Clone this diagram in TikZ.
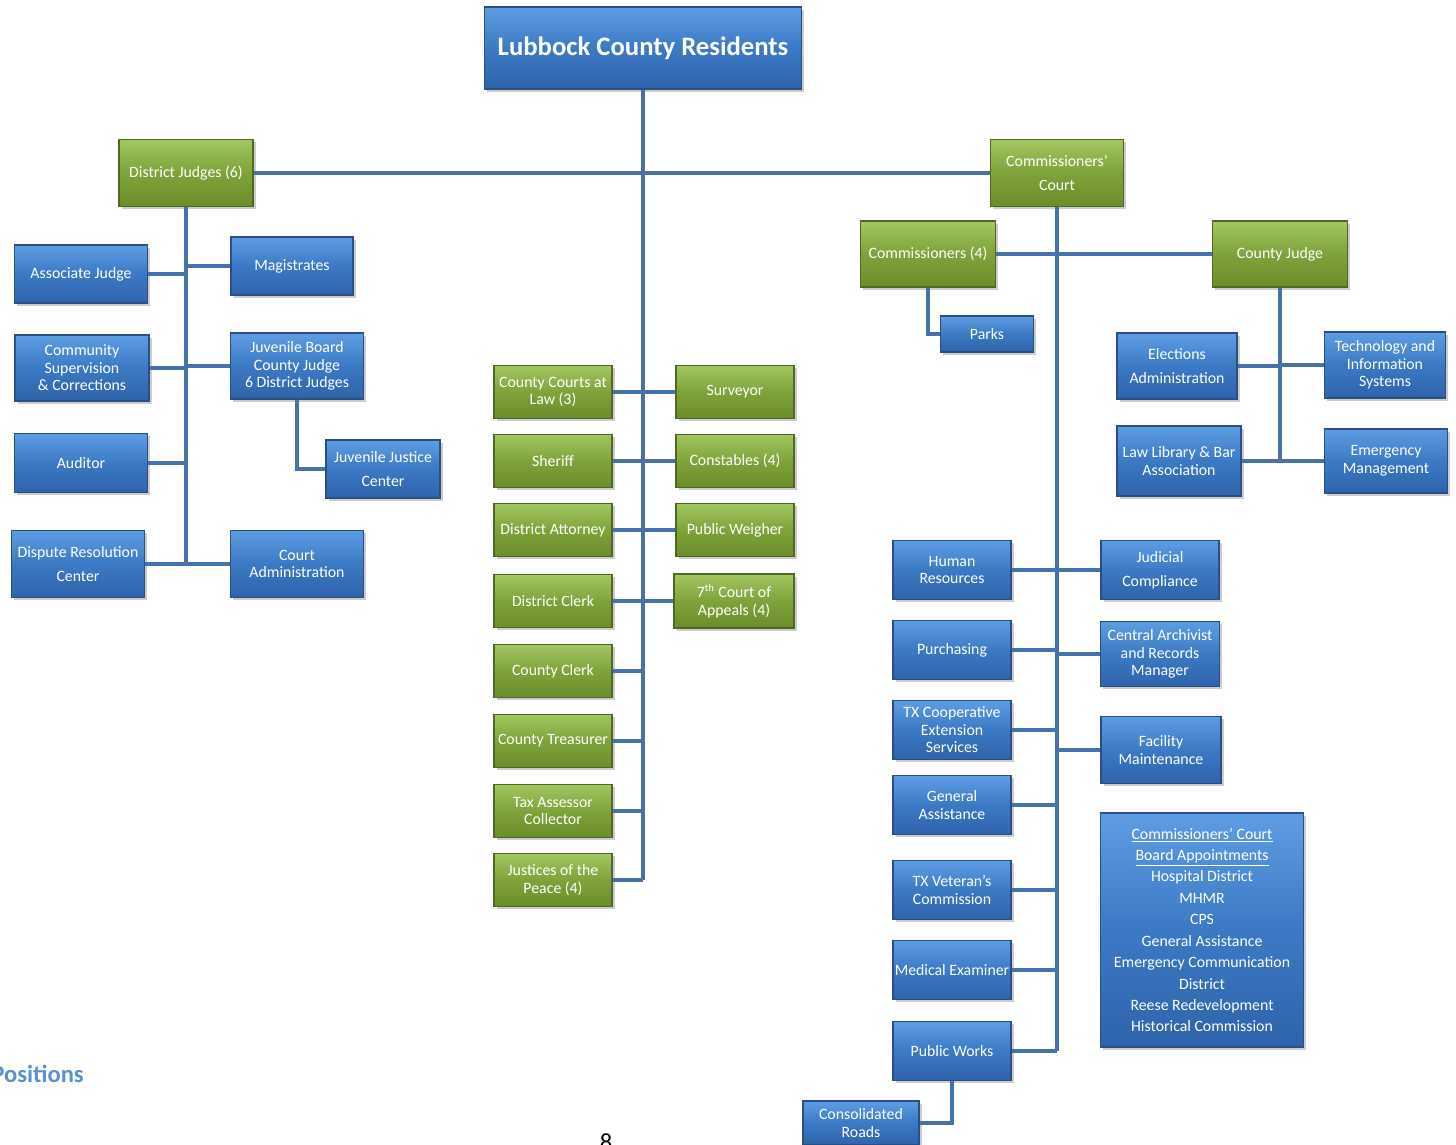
\documentclass[tikz,border=0pt]{standalone}
\usepackage{fontspec}
\setmainfont{Carlito}
\usetikzlibrary{shadows}

\definecolor{linkblue}{HTML}{4672A9}
\definecolor{boxtop}{HTML}{5E9DE2}
\definecolor{boxmid}{HTML}{3C79C5}
\definecolor{boxbot}{HTML}{2E63AA}
\definecolor{boxedge}{HTML}{2A4F80}
\definecolor{grtop}{HTML}{A2C660}
\definecolor{grmid}{HTML}{7FA33B}
\definecolor{grbot}{HTML}{6A8C2B}
\definecolor{gredge}{HTML}{4F6823}
\definecolor{postext}{HTML}{5A8FD8}

\tikzset{
  box/.style = {draw=boxedge, line width=0.8pt, top color=boxtop, bottom color=boxbot, middle color=boxmid,
    text=white, align=center, inner sep=1pt, font=\fontsize{9}{10}\selectfont,
    drop shadow={shadow xshift=1.5pt, shadow yshift=-1.5pt, opacity=0.4}},
  greenbox/.style = {box, draw=gredge, top color=grtop, bottom color=grbot, middle color=grmid},
  sz/.style 2 args = {minimum width=#1*0.02cm, minimum height=#2*0.02cm},
  link/.style = {draw=linkblue, line width=2.8pt}
}

\begin{document}
\begin{tikzpicture}[x=0.02cm, y=-0.02cm]

    \useasboundingbox (0,0) rectangle (1456,1145);

    % Top
    \node [box, sz={317}{82}, font=\fontsize{15.2}{18}\selectfont\bfseries] (res) at (643,48) {Lubbock County Residents};
    \node [greenbox, sz={134}{67}] (dj) at (186,173) {District Judges (6)};
    \node [greenbox, sz={133}{67}] (ccourt) at (1057,173) {Commissioners’\\[3.5pt] Court};

    % District Judges branch
    \node [box, sz={133}{58}] (asj) at (81,274) {Associate Judge};
    \node [box, sz={122}{58}] (mag) at (292,266) {Magistrates};
    \node [box, sz={134}{66}] (csc) at (82,368) {Community\\ Supervision\\ \& Corrections};
    \node [box, sz={133}{66}] (jb) at (297,366) {Juvenile Board\\ County Judge\\ 6 District Judges};
    \node [box, sz={133}{59}] (aud) at (81,463) {Auditor};
    \node [box, sz={114}{58}] (jjc) at (383,469) {Juvenile Justice\\[3.5pt] Center};
    \node [box, sz={133}{67}] (drc) at (78,564) {Dispute Resolution\\[3.5pt] Center};
    \node [box, sz={133}{67}] (cadm) at (297,564) {Court\\ Administration};

    % Elected offices
    \node [greenbox, sz={118}{53}] (ccl) at (553,392) {County Courts at\\ Law (3)};
    \node [greenbox, sz={118}{53}] (sher) at (553,461) {Sheriff};
    \node [greenbox, sz={118}{53}] (da) at (553,530) {District Attorney};
    \node [greenbox, sz={118}{53}] (dclk) at (553,601) {District Clerk};
    \node [greenbox, sz={118}{53}] (cclk) at (553,671) {County Clerk};
    \node [greenbox, sz={118}{53}] (ctre) at (553,741) {County Treasurer};
    \node [greenbox, sz={118}{53}] (tax) at (553,811) {Tax Assessor\\ Collector};
    \node [greenbox, sz={118}{53}] (jp) at (553,880) {Justices of the\\ Peace (4)};
    \node [greenbox, sz={118}{53}] (surv) at (735,392) {Surveyor};
    \node [greenbox, sz={118}{53}] (const) at (735,461) {Constables (4)};
    \node [greenbox, sz={118}{53}] (pweigh) at (735,530) {Public Weigher};
    \node [greenbox, sz={120}{54}] (coa) at (734,601) {7\textsuperscript{th} Court of\\ Appeals (4)};

    % Commissioners' Court branch
    \node [greenbox, sz={135}{66}] (comm) at (928,254) {Commissioners (4)};
    \node [greenbox, sz={135}{66}] (cj) at (1280,254) {County Judge};
    \node [box, sz={93}{36}] (parks) at (987,334) {Parks};
    \node [box, sz={120}{66}] (elec) at (1177,366) {Elections\\[3.5pt] Administration};
    \node [box, sz={121}{66}] (tech) at (1385,365) {Technology and\\ Information\\ Systems};
    \node [box, sz={124}{70}] (law) at (1179,461) {Law Library \& Bar\\ Association};
    \node [box, sz={123}{64}] (emer) at (1386,461) {Emergency\\ Management};

    \node [box, sz={118}{59}] (hr) at (952,570) {Human\\ Resources};
    \node [box, sz={118}{59}] (purch) at (952,650) {Purchasing};
    \node [box, sz={118}{59}] (txc) at (952,730) {TX Cooperative\\ Extension\\ Services};
    \node [box, sz={118}{59}] (gen) at (952,805) {General\\ Assistance};
    \node [box, sz={118}{59}] (vet) at (952,890) {TX Veteran’s\\ Commission};
    \node [box, sz={118}{59}] (med) at (952,970) {Medical Examiner};
    \node [box, sz={118}{59}] (pw) at (952,1051) {Public Works};
    \node [box, sz={116}{44}] (roads) at (861,1123) {Consolidated\\ Roads};
    \node [box, sz={118}{59}] (judc) at (1160,570) {Judicial\\[3.5pt] Compliance};
    \node [box, sz={119}{65}] (arch) at (1160,654) {Central Archivist\\ and Records\\ Manager};
    \node [box, sz={120}{67}] (fac) at (1161,750) {Facility\\ Maintenance};
    \node [box, sz={203}{234}, font=\fontsize{9}{12.2}\selectfont] (board) at (1202,930)
        {\underline{Commissioners’ Court}\\ \underline{Board Appointments}\\ Hospital District\\ MHMR\\ CPS\\
         General Assistance\\ Emergency Communication\\ District\\ Reese Redevelopment\\ Historical Commission};

    % Connectors
    \draw [link] (res.south) -- (res.south |- jp.east);
    \draw [link] (dj.east) -- (ccourt.west);
    \draw [link] (dj.south) -- (dj.south |- drc.east);
    \foreach \n in {asj, csc, aud, drc}
        \draw [link] (\n.east) -- (\n.east -| dj.south);
    \foreach \n in {mag, jb, cadm}
        \draw [link] (\n.west) -- (\n.west -| dj.south);
    \draw [link] (jb.south) |- (jjc.west);

    \foreach \n in {ccl, sher, da, dclk, cclk, ctre, tax, jp}
        \draw [link] (\n.east) -- (\n.east -| res.south);
    \foreach \n in {surv, const, pweigh, coa}
        \draw [link] (\n.west) -- (\n.west -| res.south);

    \draw [link] (ccourt.south) -- (ccourt.south |- pw.east);
    \draw [link] (comm.east) -- (cj.west);
    \draw [link] (comm.south) |- (parks.west);
    \draw [link] (cj.south) -- (cj.south |- emer.west);
    \foreach \n in {elec, law}
        \draw [link] (\n.east) -- (\n.east -| cj.south);
    \foreach \n in {tech, emer}
        \draw [link] (\n.west) -- (\n.west -| cj.south);
    \foreach \n in {hr, purch, txc, gen, vet, med, pw}
        \draw [link] (\n.east) -- (\n.east -| ccourt.south);
    \foreach \n in {judc, arch, fac}
        \draw [link] (\n.west) -- (\n.west -| ccourt.south);
    \draw [link] (pw.south) |- (roads.east);

    % Page text
    \node [anchor=west, inner sep=0pt, text=postext, font=\fontsize{14}{16}\selectfont\bfseries] (pos) at (-9,1074) {Positions};
    \node [anchor=north, inner sep=0pt, font=\fontsize{14}{16}\selectfont] (pg) at (606,1133) {8};

\end{tikzpicture}
\end{document}
